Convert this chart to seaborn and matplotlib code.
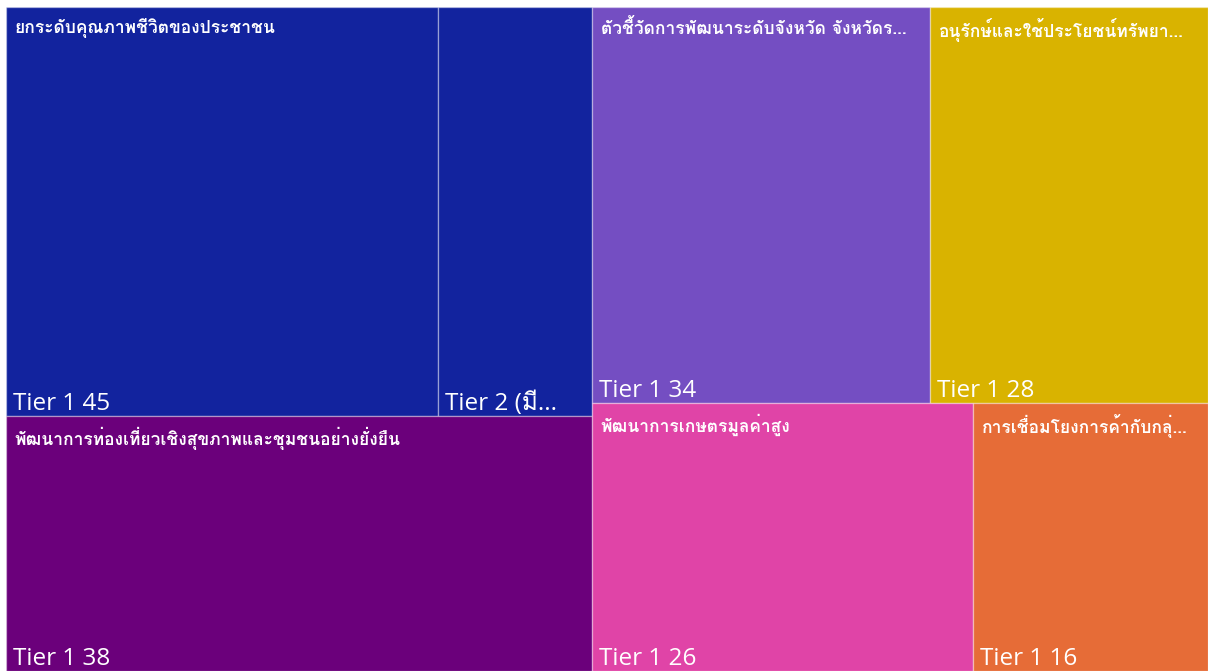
import matplotlib
matplotlib.use("Agg")
import matplotlib.pyplot as plt
import seaborn as sns
from matplotlib import font_manager, ft2font
from matplotlib.patches import Rectangle

sns.set_theme(style="white")

# ----- data -----
group_names = [
    "ยกระดับคุณภาพชีวิตของประชาชน",
    "พัฒนาการท่องเที่ยวเชิงสุขภาพและชุมชนอย่างยั่งยืน",
    "ตัวชี้วัดการพัฒนาระดับจังหวัด จังหวัดร...",
    "อนุรักษ์และใช้ประโยชน์ทรัพยา...",
    "พัฒนาการเกษตรมูลค่าสูง",
    "การเชื่อมโยงการค้ากับกลุ่...",
]
group_colors = ["#12239E", "#6B007B", "#744EC2", "#D9B300", "#E044A7", "#E66C37"]
leaf_group = [0, 0, 1, 2, 3, 4, 5]
leaf_labels = ["Tier 1 45", "Tier 2 (มี...", "Tier 1 38", "Tier 1 34",
               "Tier 1 28", "Tier 1 26", "Tier 1 16"]
leaf_values = [45, 16, 38, 34, 28, 26, 16]


# ----- find a font that has Thai glyphs -----
def thai_fonts():
    regular, bold = [], []
    for f in font_manager.fontManager.ttflist:
        try:
            if 0x0E01 not in ft2font.FT2Font(f.fname).get_charmap():
                continue
        except Exception:
            continue
        w = f.weight if isinstance(f.weight, int) else 400
        (bold if w >= 600 else regular).append(f.name)
    return regular, bold


thai_reg, thai_bold = thai_fonts()
thai_name = (thai_reg or thai_bold or ["DejaVu Sans"])[0]
plt.rcParams["font.family"] = ["Open Sans", thai_name, "DejaVu Sans"]


# ----- binary split treemap layout -----
def split_layout(values, x, y, w, h):
    if len(values) == 1:
        return [(x, y, w, h)]
    total = sum(values)
    best, acc = 1, 0
    best_diff = None
    for i in range(1, len(values)):
        acc += values[i - 1]
        diff = abs(total - 2 * acc)
        if best_diff is None or diff < best_diff:
            best, best_diff = i, diff
    a = sum(values[:best]) / total
    if w >= h:
        return (split_layout(values[:best], x, y, w * a, h)
                + split_layout(values[best:], x + w * a, y, w * (1 - a), h))
    return (split_layout(values[:best], x, y, w, h * a)
            + split_layout(values[best:], x, y + h * a, w, h * (1 - a)))


W, H = 1202, 664
group_values = [sum(v for v, g in zip(leaf_values, leaf_group) if g == i)
                for i in range(len(group_names))]
group_rects = split_layout(group_values, 0, 0, W, H)

fig = plt.figure(figsize=(12.08, 6.71), dpi=100)
ax = fig.add_axes([6 / 1208, 0, W / 1208, H / 671])
ax.set_xlim(0, W)
ax.set_ylim(H, 0)
ax.axis("off")

for gi, (gx, gy, gw, gh) in enumerate(group_rects):
    idx = [i for i, g in enumerate(leaf_group) if g == gi]
    rects = split_layout([leaf_values[i] for i in idx], gx, gy, gw, gh)
    for i, (x, y, w, h) in zip(idx, rects):
        ax.add_patch(Rectangle((x, y), w, h, facecolor=group_colors[gi],
                               edgecolor=(1, 1, 1, 0.35), linewidth=1))
        ax.annotate(leaf_labels[i], (x, y + h), xytext=(5, 0),
                    textcoords="offset points", ha="left", va="bottom",
                    color="white", fontsize=17.5)
    ax.annotate(group_names[gi], (gx, gy), xytext=(6, -8),
                textcoords="offset points", ha="left", va="top",
                color="white", fontsize=12.5, fontweight="bold",
                family=[thai_name, "DejaVu Sans"])

fig.savefig("out.png", dpi=100)
